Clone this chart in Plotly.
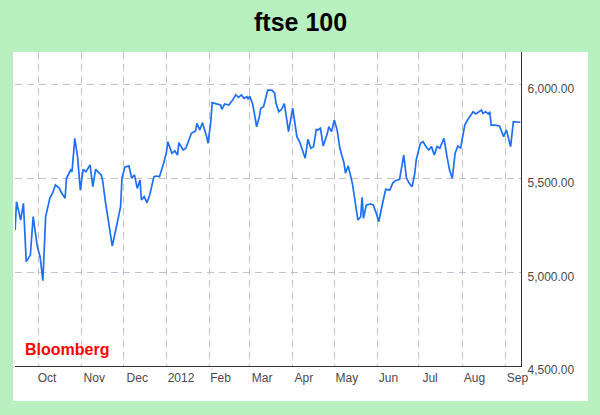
import plotly.graph_objects as go

# ---- data ----
dates = [
    "2011-09-14", "2011-09-15", "2011-09-18", "2011-09-20", "2011-09-22", "2011-09-25", "2011-09-27", "2011-09-30",
    "2011-10-02", "2011-10-04", "2011-10-06", "2011-10-09", "2011-10-11", "2011-10-13", "2011-10-16", "2011-10-17",
    "2011-10-20", "2011-10-21", "2011-10-24", "2011-10-25", "2011-10-27", "2011-10-29", "2011-10-31",
    "2011-11-02", "2011-11-04", "2011-11-07", "2011-11-09", "2011-11-11", "2011-11-15", "2011-11-16", "2011-11-18",
    "2011-11-20", "2011-11-23", "2011-11-26", "2011-11-29", "2011-11-30",
    "2011-12-02", "2011-12-05", "2011-12-07", "2011-12-09", "2011-12-11", "2011-12-13", "2011-12-14", "2011-12-16",
    "2011-12-18", "2011-12-20", "2011-12-23", "2011-12-25", "2011-12-27", "2011-12-30",
    "2012-01-01", "2012-01-02", "2012-01-05", "2012-01-07", "2012-01-09", "2012-01-10", "2012-01-13", "2012-01-15",
    "2012-01-17", "2012-01-19", "2012-01-22", "2012-01-23", "2012-01-25", "2012-01-27", "2012-01-30", "2012-01-31",
    "2012-02-02", "2012-02-03", "2012-02-06", "2012-02-09", "2012-02-10", "2012-02-12", "2012-02-15", "2012-02-17",
    "2012-02-18", "2012-02-20", "2012-02-22", "2012-02-24", "2012-02-26", "2012-02-28", "2012-02-29",
    "2012-03-01", "2012-03-03", "2012-03-04", "2012-03-06", "2012-03-08", "2012-03-09", "2012-03-11", "2012-03-13",
    "2012-03-14", "2012-03-17", "2012-03-19", "2012-03-20", "2012-03-22", "2012-03-24", "2012-03-26", "2012-03-29",
    "2012-04-01", "2012-04-04", "2012-04-06", "2012-04-10", "2012-04-12", "2012-04-14", "2012-04-16", "2012-04-18",
    "2012-04-19", "2012-04-21", "2012-04-23", "2012-04-26", "2012-04-27", "2012-04-29",
    "2012-05-01", "2012-05-03", "2012-05-05", "2012-05-08", "2012-05-09", "2012-05-11", "2012-05-14", "2012-05-16",
    "2012-05-18", "2012-05-20", "2012-05-21", "2012-05-22", "2012-05-24", "2012-05-27", "2012-05-29", "2012-05-31",
    "2012-06-02", "2012-06-04", "2012-06-07", "2012-06-10", "2012-06-12", "2012-06-14", "2012-06-17", "2012-06-20",
    "2012-06-22", "2012-06-24", "2012-06-26", "2012-06-28", "2012-06-29",
    "2012-07-02", "2012-07-04", "2012-07-06", "2012-07-08", "2012-07-10", "2012-07-12", "2012-07-14", "2012-07-16",
    "2012-07-17", "2012-07-19", "2012-07-21", "2012-07-23", "2012-07-25", "2012-07-27", "2012-07-29", "2012-07-31",
    "2012-08-01", "2012-08-03", "2012-08-05", "2012-08-08", "2012-08-09", "2012-08-11", "2012-08-13", "2012-08-15",
    "2012-08-16", "2012-08-18", "2012-08-20", "2012-08-21", "2012-08-22", "2012-08-25", "2012-08-28", "2012-08-31",
    "2012-09-02", "2012-09-05", "2012-09-07", "2012-09-10", "2012-09-12",
]
ftse = [
    5226, 5377, 5279, 5368, 5057, 5092, 5297, 5137,
    5083, 4955, 5297, 5395, 5422, 5466, 5448, 5430,
    5395, 5502, 5546, 5537, 5715, 5617, 5439,
    5550, 5537, 5573, 5457, 5550, 5520, 5493, 5380,
    5279, 5140, 5243, 5350, 5502,
    5561, 5568, 5502, 5520, 5448, 5493, 5386, 5404,
    5372, 5413, 5510, 5514, 5510, 5582,
    5639, 5697, 5635, 5649, 5626, 5692, 5653, 5662,
    5697, 5742, 5755, 5795, 5760, 5799, 5724, 5689,
    5804, 5906, 5899, 5893, 5870, 5899, 5893, 5911,
    5923, 5947, 5934, 5947, 5929, 5938, 5923,
    5941, 5902, 5866, 5777, 5831, 5876, 5884, 5938,
    5973, 5973, 5956, 5902, 5857, 5870, 5900, 5751,
    5876, 5724, 5697, 5609, 5710, 5662, 5671, 5763,
    5760, 5769, 5674, 5742, 5777, 5751,
    5813, 5760, 5662, 5582, 5529, 5568, 5475, 5377,
    5279, 5297, 5400, 5288, 5359, 5365, 5360, 5320,
    5270, 5342, 5443, 5439, 5475, 5489, 5496, 5626,
    5502, 5475, 5457, 5529, 5600,
    5689, 5697, 5671, 5653, 5671, 5626, 5671, 5662,
    5680, 5715, 5626, 5546, 5502, 5635, 5675, 5662,
    5706, 5786, 5813, 5849, 5857, 5845, 5857, 5866,
    5849, 5857, 5845, 5857, 5786, 5786, 5781, 5724,
    5760, 5671, 5804, 5804, 5801,
]
month_labels = ["Oct", "Nov", "Dec", "2012", "Feb", "Mar", "Apr", "May", "Jun", "Jul", "Aug", "Sep"]
month_label_pos = ["2011-10-07", "2011-11-10", "2011-12-11", "2012-01-11 12:00", "2012-02-09", "2012-03-10",
                   "2012-04-09", "2012-05-10", "2012-06-09", "2012-07-09", "2012-08-10", "2012-09-10"]
month_starts = ["2011-10-01", "2011-11-01", "2011-12-01", "2012-01-01", "2012-02-01", "2012-03-01",
                "2012-04-01", "2012-05-01", "2012-06-01", "2012-07-01", "2012-08-01", "2012-09-01"]
y_ticks = [4500, 5000, 5500, 6000]

GREEN = "#b9f0c0"
GRID = "#bfc3cc"

fig = go.Figure()
fig.add_trace(go.Scatter(x=dates, y=ftse, mode="lines",
                         line=dict(color="#1f6ff5", width=1.7), hoverinfo="skip", showlegend=False))

fig.update_layout(
    width=600, height=415,
    margin=dict(l=15, r=79, t=52, b=49),
    paper_bgcolor=GREEN, plot_bgcolor="white",
    font=dict(family="Arial, Liberation Sans, sans-serif", size=12, color="#444"),
    xaxis=dict(
        type="date", range=["2011-09-13 22:00", "2012-09-12 12:00"],
        tickmode="array", tickvals=month_label_pos, ticktext=month_labels,
        showgrid=False, ticks="", showline=True, linecolor="#333", linewidth=1.2,
        tickfont=dict(size=12, color="#4a4a4a"), zeroline=False,
        minor=dict(tickmode="array", tickvals=month_starts, showgrid=True,
                   gridcolor=GRID, griddash="7px,5px", gridwidth=1.2, ticks=""),
    ),
    yaxis=dict(
        side="right", range=[4500, 6176],
        tickmode="array", tickvals=y_ticks, tickformat=",.2f",
        showgrid=True, gridcolor=GRID, griddash="7px,5px", gridwidth=1.2,
        showline=True, linecolor="#333", linewidth=1.2, ticks="",
        tickfont=dict(size=12, color="#4a4a4a"), zeroline=False,
        ticklabelshift=4, ticklabelstandoff=3,
    ),
    shapes=[dict(type="rect", xref="paper", yref="paper",
                 x0=-0.004, x1=1.1324, y0=-0.1115, y1=1.0,
                 fillcolor="white", line=dict(width=0), layer="below")],
    annotations=[
        dict(text="<b>ftse 100</b>", xref="paper", yref="paper", x=(300 - 15) / 506, y=(366 - 22) / 314,
             xanchor="center", yanchor="middle", showarrow=False,
             font=dict(family="Liberation Sans, Arial, sans-serif", size=25, color="black")),
        dict(text="<b>Bloomberg</b>", xref="paper", yref="paper", x=(23 - 15) / 506, y=(366 - 349) / 314,
             xanchor="left", yanchor="middle", showarrow=False,
             font=dict(family="Arial, Liberation Sans, sans-serif", size=16, color="#ff0000")),
    ],
)

fig.write_html("out.html", config={"displayModeBar": False},
               post_script="document.body.style.margin='0';")
